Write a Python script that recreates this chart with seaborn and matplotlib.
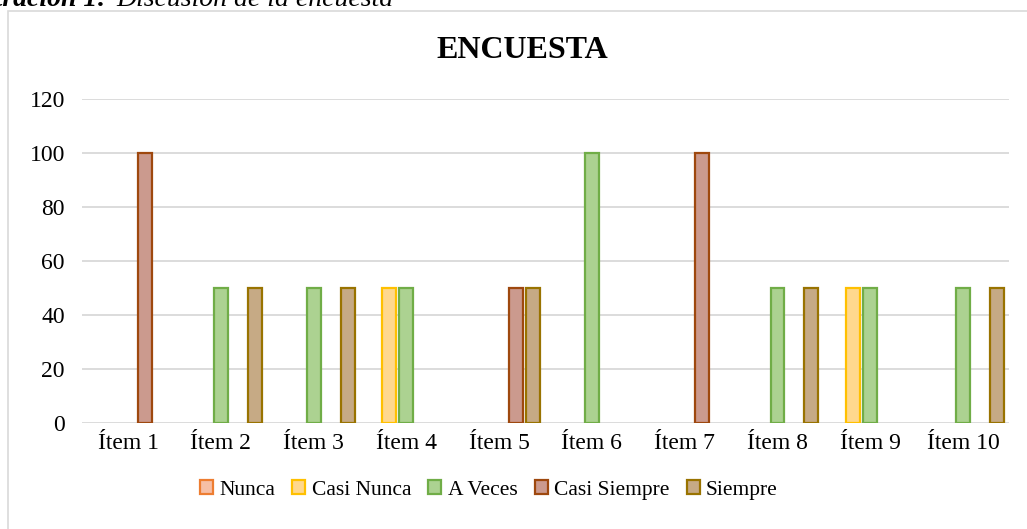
import matplotlib
matplotlib.use('Agg')
import matplotlib.pyplot as plt
from matplotlib.patches import Patch, Rectangle
import numpy as np
import pandas as pd
import seaborn as sns

# Data
items = ['Ítem 1', 'Ítem 2', 'Ítem 3', 'Ítem 4', 'Ítem 5',
         'Ítem 6', 'Ítem 7', 'Ítem 8', 'Ítem 9', 'Ítem 10']
answers = ['Nunca', 'Casi Nunca', 'A Veces', 'Casi Siempre', 'Siempre']
nunca = [0, 0, 0, 0, 0, 0, 0, 0, 0, 0]
casi_nunca = [0, 0, 0, 50, 0, 0, 0, 0, 50, 0]
a_veces = [0, 50, 50, 50, 0, 100, 0, 50, 50, 50]
casi_siempre = [100, 0, 0, 0, 50, 0, 100, 0, 0, 0]
siempre = [0, 50, 50, 0, 50, 0, 0, 50, 0, 50]

fills = ['#F6BFA6', '#FFD88E', '#ACD291', '#CB9A8E', '#C6AA85']
edges = ['#ED7D31', '#FFC000', '#70AD47', '#9E480E', '#997300']

series = [nunca, casi_nunca, a_veces, casi_siempre, siempre]
df = pd.DataFrame({
    'item': items * len(answers),
    'answer': np.repeat(answers, len(items)),
    'value': np.concatenate(series),
})

plt.rcParams['font.family'] = ['Liberation Serif', 'DejaVu Serif']

fig = plt.figure(figsize=(10.27, 5.29), dpi=100)
ax = fig.add_axes([0.0795, 0.2004, 0.9034, 0.6125])

sns.barplot(data=df, x='item', y='value', hue='answer', hue_order=answers,
            palette=fills, saturation=1, errorbar=None, width=0.915, gap=0.18,
            legend=False, ax=ax, zorder=3)

for cont, ec in zip(ax.containers, edges):
    for bar in cont:
        bar.set_edgecolor(ec)
        bar.set_linewidth(1.6)
        if bar.get_height() == 0:
            bar.set_visible(False)

ax.set_ylim(0, 120)
ax.set_yticks(range(0, 121, 20))
ax.set_xlim(-0.5, len(items) - 0.5)
ax.set_xlabel('')
ax.set_ylabel('')
ax.grid(axis='y', color='#D9D9D9', lw=1.3, zorder=0)
ax.set_axisbelow(True)
for s in ax.spines.values():
    s.set_visible(False)
ax.tick_params(axis='both', length=0, labelsize=17)
ax.tick_params(axis='x', pad=7)
ax.tick_params(axis='y', pad=12)

handles = [Patch(facecolor=f, edgecolor=e, lw=1.6) for f, e in zip(fills, edges)]
fig.legend(handles, answers, loc='center', bbox_to_anchor=(0.476, 0.074), ncol=5,
           frameon=False, fontsize=15.5, handlelength=0.6, handleheight=0.6,
           handletextpad=0.3, columnspacing=0.8)

fig.text(0.509, 0.9036, 'ENCUESTA', ha='center', va='center',
         fontsize=23, fontweight='bold')

# caption (cut at top of the page)
fig.text(107 / 1027, 1 - 6 / 529, 'Ilustración 1:', ha='right', va='baseline',
         fontsize=20, fontweight='bold', style='italic')
fig.text(116 / 1027, 1 - 6 / 529, 'Discusión de la encuesta', ha='left',
         va='baseline', fontsize=20, style='italic')

fig.add_artist(Rectangle((8 / 1027, -0.1), 1.2, 1 - 11 / 529 + 0.1,
                         transform=fig.transFigure, fill=False,
                         edgecolor='#D9D9D9', lw=1.2))

fig.savefig('out.png', dpi=100)
